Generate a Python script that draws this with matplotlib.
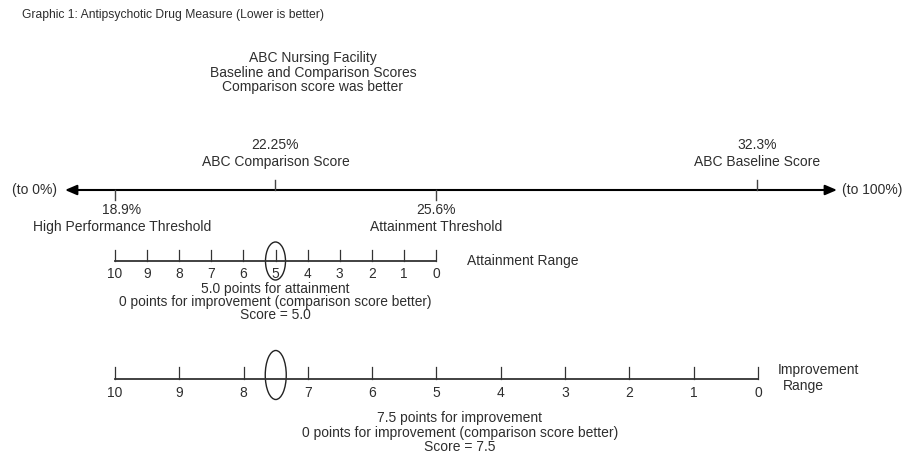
import matplotlib
matplotlib.use("Agg")
import matplotlib.pyplot as plt
import matplotlib.transforms as mtransforms
from matplotlib.patches import Ellipse, FancyArrowPatch

plt.rcParams['font.family'] = ['Liberation Sans', 'DejaVu Sans']

# ---------------- data ----------------
title = "Graphic 1: Antipsychotic Drug Measure (Lower is better)"
heading = ["ABC Nursing Facility", "Baseline and Comparison Scores", "Comparison score was better"]

baseline_score = 32.3
comparison_score = 22.25
high_perf_threshold = 18.9
attainment_threshold = 25.6

attain_ticks = [10, 9, 8, 7, 6, 5, 4, 3, 2, 1, 0]
attain_points = 5.0
improve_ticks = [10, 9, 8, 7, 6, 5, 4, 3, 2, 1, 0]
improve_points = 7.5

attain_text = ["5.0 points for attainment",
               "0 points for improvement (comparison score better)",
               "Score = 5.0"]
improve_text = ["7.5 points for improvement",
                "0 points for improvement (comparison score better)",
                "Score = 7.5"]

# ---------------- layout ----------------
W, H = 903, 461
fig = plt.figure(figsize=(W / 100, H / 100), dpi=100)
TXT = "#2e2e2e"
FS = 10.0
FS_A = 9.9

def make_ax(x_at_0px, x_at_Wpx):
    ax = fig.add_axes([0, 0, 1, 1])
    ax.set_xlim(x_at_0px, x_at_Wpx)
    ax.set_ylim(H, 0)  # vertical layout in pixels
    ax.axis('off')
    ax.patch.set_alpha(0)
    return ax

# main percentage axis: 18.9% at px 115, 25.6% at px 436
ppx = (436 - 115) / (attainment_threshold - high_perf_threshold)
ax_m = make_ax(high_perf_threshold - 115 / ppx, high_perf_threshold + (W - 115) / ppx)
# attainment range axis: 10 at px 115, 0 at px 436
apx = (436 - 115) / 10
ax_a = make_ax(10 + 115 / apx, 10 - (W - 115) / apx)
# improvement range axis: 10 at px 115, 0 at px 758
ipx = (758 - 115) / 10
ax_i = make_ax(10 + 115 / ipx, 10 - (W - 115) / ipx)

bt = mtransforms.blended_transform_factory(ax_m.transAxes, ax_m.transData)

# title and heading
ax_m.text(22 / W, 15, title, transform=bt, ha='left', va='center', fontsize=8.7, color=TXT)
for k, line in enumerate(heading):
    ax_m.text(313 / W, 58 + 14.5 * k, line, transform=bt, ha='center', va='center',
              fontsize=FS, color=TXT)

# main arrow line
yl = 190
arr = FancyArrowPatch((837 / W, yl), (65 / W, yl), transform=bt,
                      arrowstyle='<|-|>,head_length=0.7,head_width=0.3',
                      mutation_scale=10, lw=1.5, color='black', shrinkA=0, shrinkB=0)
ax_m.add_patch(arr)
ax_m.text(57 / W, yl, "(to 0%)", transform=bt, ha='right', va='center', fontsize=FS, color=TXT)
ax_m.text(842 / W, yl, "(to 100%)", transform=bt, ha='left', va='center', fontsize=FS, color=TXT)

# ticks above (scores) and below (thresholds)
for v in [comparison_score, baseline_score]:
    ax_m.plot([v, v], [yl - 10, yl], color='#444444', lw=1.0)
for v in [high_perf_threshold, attainment_threshold]:
    ax_m.plot([v, v], [yl, yl + 10], color='#444444', lw=1.0)

ax_m.text(comparison_score, 145, f"{comparison_score:.2f}%", ha='center', va='center', fontsize=FS, color=TXT)
ax_m.text(comparison_score, 162, "ABC Comparison Score", ha='center', va='center', fontsize=FS, color=TXT)
ax_m.text(baseline_score, 145, f"{baseline_score}%", ha='center', va='center', fontsize=FS, color=TXT)
ax_m.text(baseline_score, 162, "ABC Baseline Score", ha='center', va='center', fontsize=FS, color=TXT)
ax_m.text(high_perf_threshold + 7 / ppx, 210, f"{high_perf_threshold}%", ha='center', va='center', fontsize=FS, color=TXT)
ax_m.text(high_perf_threshold + 7 / ppx, 227, "High Performance Threshold", ha='center', va='center', fontsize=FS, color=TXT)
ax_m.text(attainment_threshold, 210, f"{attainment_threshold}%", ha='center', va='center', fontsize=FS, color=TXT)
ax_m.text(attainment_threshold, 227, "Attainment Threshold", ha='center', va='center', fontsize=FS, color=TXT)

# attainment range
ya = 261
ax_a.plot([attain_ticks[0], attain_ticks[-1]], [ya, ya], color='#333333', lw=1.3)
for t in attain_ticks:
    ax_a.plot([t, t], [ya - 11, ya], color='#333333', lw=0.9)
    ax_a.text(t, 273.5, str(t), ha='center', va='center', fontsize=FS_A, color=TXT)
ax_a.add_patch(Ellipse((attain_points, ya), 20 / apx, 38, fill=False, ec='#222222', lw=1.0))
ax_a.text(attain_ticks[-1] - 31 / apx, ya, "Attainment Range", ha='left', va='center', fontsize=FS, color=TXT)
for k, line in enumerate(attain_text):
    ax_a.text(5.0, 288.5 + 13.3 * k, line, ha='center', va='center', fontsize=FS_A, color=TXT)

# improvement range
yi = 379
ax_i.plot([improve_ticks[0], improve_ticks[-1]], [yi, yi], color='#333333', lw=1.3)
for t in improve_ticks:
    ax_i.plot([t, t], [yi - 12, yi], color='#333333', lw=0.9)
    ax_i.text(t, 393, str(t), ha='center', va='center', fontsize=FS, color=TXT)
ax_i.add_patch(Ellipse((improve_points, 375), 21 / ipx, 49, fill=False, ec='#222222', lw=1.0))
ax_i.text(improve_ticks[-1] - 20 / ipx, 370, "Improvement", ha='left', va='center', fontsize=FS, color=TXT)
ax_i.text(improve_ticks[-1] - 25 / ipx, 386, "Range", ha='left', va='center', fontsize=FS, color=TXT)
for k, line in enumerate(improve_text):
    ax_i.text(10 - (460 - 115) / ipx, 418 + 14.5 * k, line, ha='center', va='center',
              fontsize=FS, color=TXT)

fig.savefig("out.png", dpi=100)
